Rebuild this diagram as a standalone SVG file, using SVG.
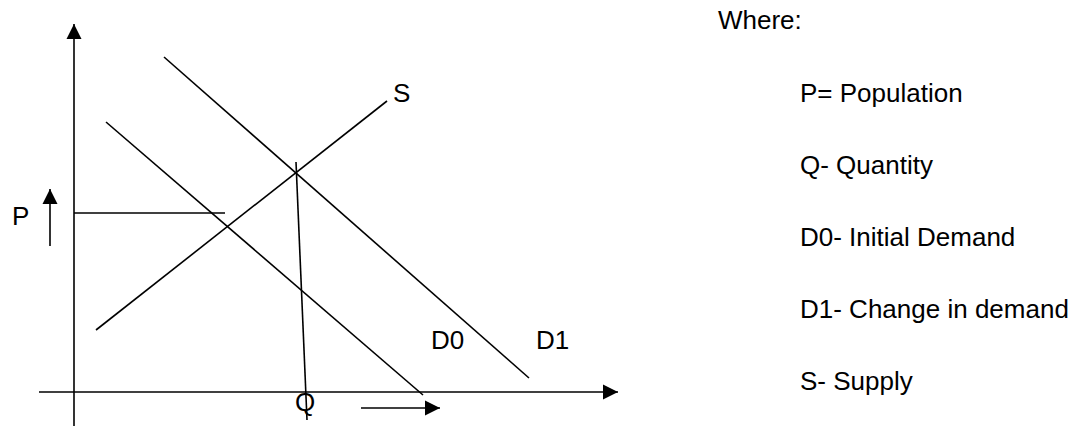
<svg xmlns="http://www.w3.org/2000/svg" width="1080" height="426" viewBox="0 0 1080 426">
<style>
.ln{stroke:#000;stroke-width:1.6;fill:none}
.t{font-family:"Liberation Sans",Arial,sans-serif;font-size:26px;fill:#000}
</style>
<defs>
<marker id="ah" markerUnits="userSpaceOnUse" markerWidth="16" markerHeight="16" viewBox="0 0 16 16" refX="15" refY="8" orient="auto">
<path d="M0,0.5 L15,8 L0,15.5 Z" fill="#000"/>
</marker>
</defs>
<rect width="1080" height="426" fill="#fff"/>
<g id="connectors">
<line class="ln" x1="74" y1="426" x2="74" y2="24" marker-end="url(#ah)"/>
<line class="ln" x1="39" y1="392" x2="618" y2="392" marker-end="url(#ah)"/>
<line class="ln" x1="50" y1="246" x2="50" y2="189" marker-end="url(#ah)"/>
<line class="ln" x1="361" y1="408" x2="440" y2="408" marker-end="url(#ah)"/>
<line class="ln" x1="74" y1="213" x2="225" y2="213"/>
<line class="ln" x1="164" y1="57" x2="529" y2="378"/>
<line class="ln" x1="106" y1="122" x2="423" y2="395"/>
<line class="ln" x1="96" y1="330" x2="387" y2="101"/>
<line class="ln" x1="296" y1="162" x2="307" y2="420"/>
</g>
<g id="labels">
<text class="t" x="393" y="102">S</text>
<text class="t" x="12" y="225">P</text>
<text class="t" x="431" y="349">D0</text>
<text class="t" x="536" y="349">D1</text>
<text class="t" x="295" y="411">Q</text>
</g>
<g id="legend">
<text class="t" x="718" y="29">Where:</text>
<text class="t" x="800" y="102">P= Population</text>
<text class="t" x="800" y="174">Q- Quantity</text>
<text class="t" x="800" y="246">D0- Initial Demand</text>
<text class="t" x="800" y="318">D1- Change in demand</text>
<text class="t" x="800" y="390">S- Supply</text>
</g>
</svg>
